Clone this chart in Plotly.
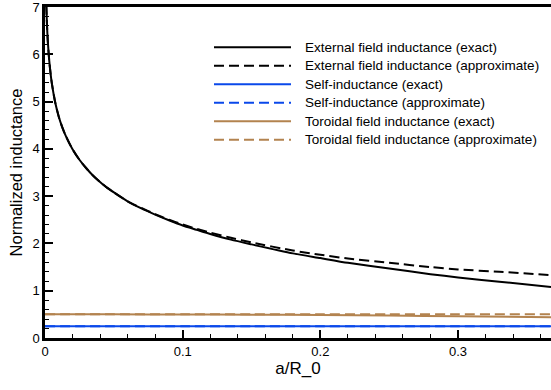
import plotly.graph_objects as go

# ---- data ----
eps = [0.0005, 0.001, 0.0015, 0.002, 0.003, 0.004, 0.005, 0.0075, 0.01,
       0.0125, 0.015, 0.02, 0.025, 0.03, 0.035, 0.04, 0.045, 0.05, 0.06,
       0.07, 0.08, 0.09, 0.1, 0.11, 0.12, 0.135, 0.15, 0.18, 0.2, 0.22,
       0.25, 0.28, 0.3, 0.33, 0.3675]
ext_exact = [7.68, 6.99, 6.58, 6.29, 5.89, 5.60, 5.38, 4.97, 4.68,
             4.46, 4.28, 3.99, 3.77, 3.59, 3.43, 3.30, 3.18, 3.08, 2.89,
             2.74, 2.61, 2.49, 2.38, 2.29, 2.20, 2.08, 1.98, 1.79, 1.69, 1.59,
             1.47, 1.35, 1.28, 1.19, 1.08]
ext_approx = [7.68, 6.99, 6.58, 6.29, 5.89, 5.60, 5.38, 4.97, 4.68,
              4.46, 4.28, 3.99, 3.77, 3.59, 3.43, 3.30, 3.18, 3.08, 2.89,
              2.75, 2.62, 2.50, 2.40, 2.31, 2.23, 2.12, 2.02, 1.85, 1.76, 1.68,
              1.59, 1.50, 1.45, 1.40, 1.33]

eps_flat = [0.0, 0.05, 0.1, 0.15, 0.2, 0.25, 0.3, 0.3675]
self_exact = [0.25, 0.25, 0.25, 0.25, 0.25, 0.25, 0.25, 0.25]
self_approx = [0.25, 0.25, 0.25, 0.25, 0.25, 0.25, 0.25, 0.25]
tor_exact = [0.50, 0.50, 0.498, 0.494, 0.488, 0.475, 0.46, 0.44]
tor_approx = [0.50, 0.50, 0.50, 0.50, 0.50, 0.50, 0.50, 0.50]

names = ["External field inductance (exact)",
         "External field inductance (approximate)",
         "Self-inductance (exact)",
         "Self-inductance (approximate)",
         "Toroidal field inductance (exact)",
         "Toroidal field inductance (approximate)"]

BLACK = "#000000"
BLUE = "#0a48ea"
BROWN = "#b3834f"
DASH = "10px,5px"

series = [
    (eps, ext_exact, BLACK, "solid"),
    (eps, ext_approx, BLACK, DASH),
    (eps_flat, self_exact, BLUE, "solid"),
    (eps_flat, self_approx, BLUE, DASH),
    (eps_flat, tor_exact, BROWN, "solid"),
    (eps_flat, tor_approx, BROWN, DASH),
]

fig = go.Figure()
for (x, y, c, d), n in zip(series, names):
    fig.add_trace(go.Scatter(x=x, y=y, mode="lines", name=n,
                             line=dict(color=c, width=2, dash=d,
                                       shape="spline", smoothing=0.6),
                             showlegend=False))

# ---- manual legend (long line samples as in reference) ----
W, H = 551, 390
ml, mr, mt, mb = 45, 0, 5, 52
pw, ph = W - ml - mr, H - mt - mb
def px(xp):
    return (xp - ml) / pw
def py(yp):
    return (H - mb - yp) / ph

row_y = [45.5, 64, 82.7, 101.3, 120, 138.5]
for (x, y, c, d), n, ry in zip(series, names, row_y):
    fig.add_shape(type="line", xref="paper", yref="paper",
                  x0=px(214), x1=px(291), y0=py(ry), y1=py(ry),
                  line=dict(color=c, width=2, dash=d))
    fig.add_annotation(xref="paper", yref="paper", x=px(305), y=py(ry),
                       text=n, showarrow=False, xanchor="left",
                       yanchor="middle", xshift=-2,
                       font=dict(size=13.5, color="#000000"))

axis_common = dict(showline=True, linecolor="#000000", linewidth=2.5,
                   ticks="inside", ticklen=8, tickwidth=1.5,
                   tickcolor="#000000", showgrid=False, zeroline=False,
                   ticklabeloverflow="allow",
                   tickfont=dict(size=13, color="#000000"))

fig.update_layout(
    width=W, height=H,
    margin=dict(l=ml, r=mr, t=mt, b=mb),
    paper_bgcolor="white", plot_bgcolor="white",
    font=dict(family="Liberation Sans, Arial, sans-serif", color="#000000"),
    xaxis=dict(range=[0, 0.3675], tickvals=[0, 0.1, 0.2, 0.3],
               ticktext=["0", "0.1", "0.2", "0.3"], mirror=True,
               minor=dict(dtick=0.02, ticks="inside", ticklen=4,
                          tickcolor="#000000", tickwidth=1),
               title=dict(text="a/R_0", font=dict(size=17), standoff=4),
               **axis_common),
    yaxis=dict(range=[0, 7], dtick=1, mirror=False,
               minor=dict(dtick=0.2, ticks="inside", ticklen=4,
                          tickcolor="#000000", tickwidth=1),
               title=dict(text="Normalized inductance", font=dict(size=16.5),
                          standoff=6),
               **axis_common),
)

fig.write_html("out.html")
